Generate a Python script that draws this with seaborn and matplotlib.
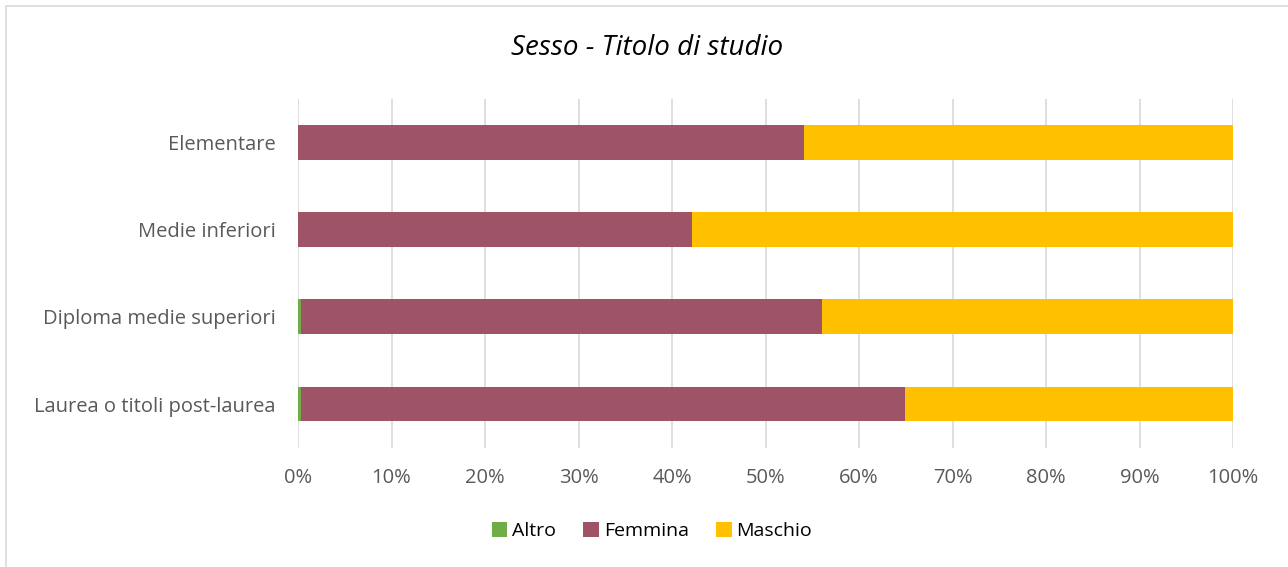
import matplotlib
matplotlib.use("Agg")
import matplotlib.pyplot as plt
import seaborn as sns
import pandas as pd
import numpy as np
from matplotlib.patches import Rectangle, Patch
from matplotlib.ticker import PercentFormatter

categories = ["Elementare", "Medie inferiori", "Diploma medie superiori", "Laurea o titoli post-laurea"]
altro = [0.0, 0.0, 0.3, 0.35]
femmina = [54.1, 42.1, 55.7, 64.55]
maschio = [45.9, 57.9, 44.0, 35.1]
series_names = ["Altro", "Femmina", "Maschio"]
colors = {"Altro": "#70ad47", "Femmina": "#9e5366", "Maschio": "#ffc000"}
xticks = [0, 10, 20, 30, 40, 50, 60, 70, 80, 90, 100]

sns.set_theme(style="white")
plt.rcParams['font.family'] = ['Open Sans', 'DejaVu Sans']

fig = plt.figure(figsize=(12.88, 5.67), dpi=100)
ax = fig.add_axes([298/1288, 1-447.6/567, (1233-298)/1288, (447.6-98.9)/567])

df = pd.DataFrame({"cat": categories, "Altro": altro, "Femmina": femmina, "Maschio": maschio})
df["c_altro"] = df["Altro"]
df["c_fem"] = df["Altro"] + df["Femmina"]
df["c_mas"] = df["c_fem"] + df["Maschio"]

for col, name in [("c_mas", "Maschio"), ("c_fem", "Femmina"), ("c_altro", "Altro")]:
    sns.barplot(data=df, y="cat", x=col, orient="h", color=colors[name], width=0.4,
                saturation=1, ax=ax, zorder=3, linewidth=0)

ax.set_xlim(0, 100)
ax.set_ylim(3.5, -0.5)
ax.set_xticks(xticks)
ax.xaxis.set_major_formatter(PercentFormatter(decimals=0))
ax.grid(axis="x", color="#d9d9d9", linewidth=1.2, zorder=0)
ax.set_axisbelow(True)
for s in ax.spines.values():
    s.set_visible(False)
ax.set_xlabel("")
ax.set_ylabel("")
ax.tick_params(axis="x", length=0, labelsize=14.5, colors="#595959", pad=15)
ax.tick_params(axis="y", length=0, labelsize=14.5, colors="#595959", pad=16)

fig.text(647/1288, 1-48/567, "Sesso - Titolo di studio", ha="center", va="center",
         fontsize=20, style="italic", color="#000000")

handles = [Patch(facecolor=colors[n], edgecolor="none") for n in series_names]
fig.legend(handles, series_names, loc="center", bbox_to_anchor=(652/1288, 1-531/567), ncol=3,
           frameon=False, fontsize=14, handlelength=0.8, handleheight=0.8, handletextpad=0.25,
           columnspacing=1.4, labelcolor="#000000")

fig.patches.append(Rectangle((6/1288, -0.05), 1.1, 1-6/567+0.05, transform=fig.transFigure,
                             fill=False, edgecolor="#d9d9d9", linewidth=1.2))

fig.savefig("out.png", dpi=100, facecolor="white")
